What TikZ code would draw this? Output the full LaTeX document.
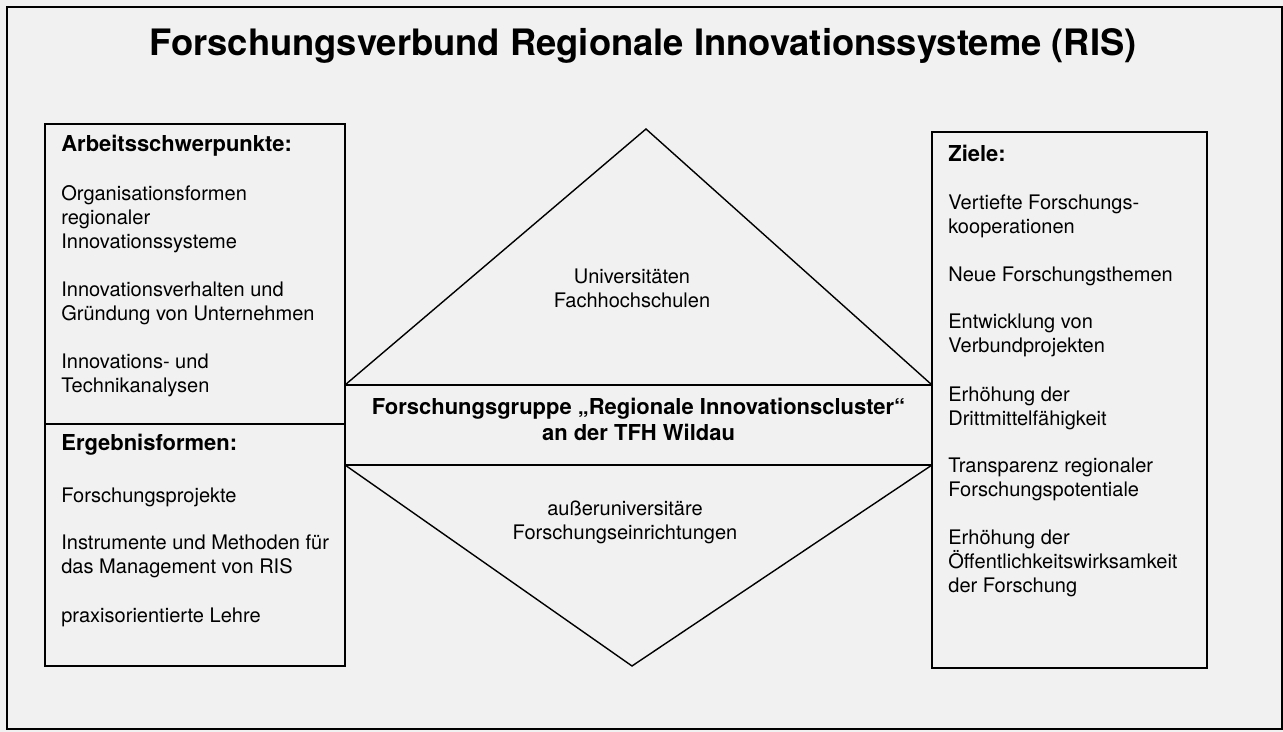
\documentclass[tikz,border=0pt]{standalone}
\usepackage{fontspec}
\setmainfont{TeX Gyre Heros}
\tikzset{
  box/.style={rectangle, draw=black, line width=0.8pt, inner sep=0pt, outer sep=0pt},
  band/.style={align=center, inner sep=0pt, font=\bfseries\fontsize{12.5}{14.6}\selectfont},
  edge/.style={draw=black, line width=0.8pt, line join=miter},
  title/.style={font=\bfseries\fontsize{20.7}{25}\selectfont},
  head/.style={anchor=west, align=left, inner sep=0pt, font=\bfseries\fontsize{12.5}{14.6}\selectfont},
  item/.style={anchor=west, align=left, inner sep=0pt, font=\fontsize{11.4}{13.7}\selectfont},
  txt/.style={align=center, inner sep=0pt, font=\fontsize{11.4}{13.7}\selectfont},
}
\definecolor{paper}{RGB}{241,241,241}

\begin{document}
\begin{tikzpicture}
\useasboundingbox (0,0) rectangle (25.66,14.64);
\fill[paper] (0,0) rectangle (25.66,14.64);

% frame and title
\node[box, minimum width=25.5cm, minimum height=14.44cm] (page) at (12.89,7.28) {};
\node[title] (head) at (12.86,13.72) {Forschungsverbund Regionale Innovationssysteme (RIS)};

% left column
\node[box, minimum width=6cm, minimum height=6cm] (work) at (3.9,9.16) {};
\node[box, minimum width=6cm, minimum height=4.84cm] (result) at (3.9,3.74) {};

\node[head] (w0) at (1.22,11.72) {Arbeitsschwerpunkte:};
\node[item] (w1) at (1.22,10.25) {Organisationsformen\\regionaler\\Innovationssysteme};
\node[item] (w2) at (1.22,8.58) {Innovationsverhalten und\\Gründung von Unternehmen};
\node[item] (w3) at (1.22,7.14) {Innovations- und\\Technikanalysen};

\node[head] (r0) at (1.22,5.74) {Ergebnisformen:};
\node[item] (r1) at (1.22,4.70) {Forschungsprojekte};
\node[item] (r2) at (1.22,3.52) {Instrumente und Methoden für\\das Management von RIS};
\node[item] (r3) at (1.22,2.30) {praxisorientierte Lehre};

% right column
\node[box, minimum width=5.5cm, minimum height=10.72cm] (aims) at (21.39,6.64) {};

\node[head] (z0) at (18.96,11.58) {Ziele:};
\node[item] (z1) at (18.96,10.32) {Vertiefte Forschungs-\\kooperationen};
\node[item] (z2) at (18.96,9.12) {Neue Forschungsthemen};
\node[item] (z3) at (18.96,7.93) {Entwicklung von\\Verbundprojekten};
\node[item] (z4) at (18.96,6.47) {Erhöhung der\\Drittmittelfähigkeit};
\node[item] (z5) at (18.96,5.06) {Transparenz regionaler\\Forschungspotentiale};
\node[item] (z6) at (18.96,3.38) {Erhöhung der\\Öffentlichkeitswirksamkeit\\der Forschung};

% centre: band with two triangles
\node[box, minimum width=11.74cm, minimum height=1.6cm] (group) at (12.77,6.14) {};
\node[band] (grouptext) at (12.77,6.25) {Forschungsgruppe „Regionale Innovationscluster“\\an der TFH Wildau};
\coordinate (top) at (12.92,12.06);
\coordinate (bottom) at (12.64,1.32);
\draw[edge] (group.north west) -- (top) -- (group.north east);
\draw[edge] (group.south west) -- (bottom) -- (group.south east);

\node[txt] (uni) at (12.64,8.88) {Universitäten\\Fachhochschulen};
\node[txt] (ext) at (12.5,4.2) {außeruniversitäre\\Forschungseinrichtungen};

\end{tikzpicture}
\end{document}
